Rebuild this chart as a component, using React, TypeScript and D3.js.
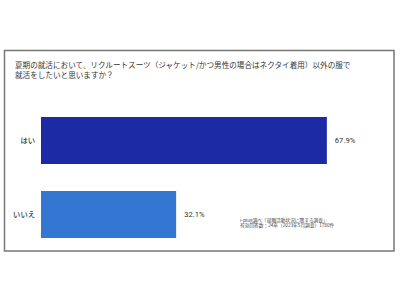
import * as d3 from "d3";

const categories = ["はい", "いいえ"];
const values = [67.9, 32.1];
const colors = ["#1c2aa6", "#3477d3"];
const titleLines = [
  "夏期の就活において、リクルートスーツ（ジャケット/かつ男性の場合はネクタイ着用）以外の服で",
  "就活をしたいと思いますか？",
];
const noteLines = [
  "i-plug調べ「就職活動状況に関する調査」",
  "有効回答数：24卒（2023年5月調査）1780件",
];

const W = 400;
const H = 300;
const FONT = "'Noto Sans CJK JP', 'Noto Sans', sans-serif";

export default function App() {
  // bars start at x=41, 100% would reach ~462
  const x = d3.scaleLinear().domain([0, 100]).range([41, 462]);
  const y = d3.scaleBand().domain(categories).range([117, 238]).paddingInner(0.365).paddingOuter(0);

  return (
    <svg
      width={W}
      height={H}
      style={{ position: "absolute", left: 0, top: 0, background: "#fff" }}
    >
      <rect x={4.5} y={50.5} width={389.5} height={200.5} fill="none" stroke="#777" strokeWidth={1.5} />
      <g fontFamily={FONT} fill="#333">
        {titleLines.map((t, i) => (
          <text key={i} x={15} y={67.5 + i * 10.5} fontSize={7.6}>
            {t}
          </text>
        ))}
      </g>
      {categories.map((c, i) => {
        const by = y(c)!;
        const bh = y.bandwidth();
        return (
          <g key={c}>
            <rect x={x(0)} y={by} width={x(values[i]) - x(0)} height={bh} fill={colors[i]} />
            <text
              x={35}
              y={by + bh / 2}
              dy="0.35em"
              textAnchor="end"
              fontFamily={FONT}
              fontSize={7.3}
              fontWeight={500}
              fill="#333"
            >
              {c}
            </text>
            <text
              x={x(values[i]) + 8}
              y={by + bh / 2}
              dy="0.35em"
              fontFamily="Roboto, sans-serif"
              fontSize={7.6}
              fill="#333"
            >
              {values[i].toFixed(1)}%
            </text>
          </g>
        );
      })}
      <g fontFamily={FONT} fontSize={4.7} fill="#444">
        {noteLines.map((t, i) => (
          <text key={i} x={240} y={221.5 + i * 5.5}>
            {t}
          </text>
        ))}
      </g>
    </svg>
  );
}
